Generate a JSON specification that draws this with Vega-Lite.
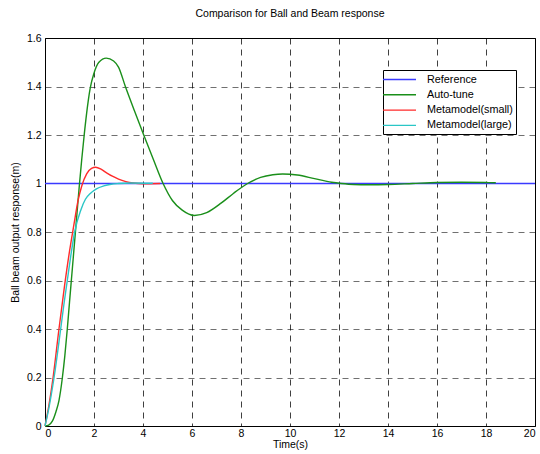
{
  "$schema": "https://vega.github.io/schema/vega-lite/v6.json",
  "width": 490,
  "height": 388,
  "autosize": "none",
  "padding": {"left": 45, "top": 38, "right": 5, "bottom": 28},
  "background": "white",
  "title": {"text": "Comparison for Ball and Beam response", "fontSize": 10.5, "font": "Liberation Sans", "fontWeight": "normal", "offset": 14, "anchor": "middle", "color": "#000"},
  "data": {"values": [
    {"series": "Reference", "time": 0, "response": 1},
    {"series": "Reference", "time": 20, "response": 1},

    {"series": "Auto-tune", "time": 0, "response": 0},
    {"series": "Auto-tune", "time": 0.15, "response": 0.004},
    {"series": "Auto-tune", "time": 0.3, "response": 0.02},
    {"series": "Auto-tune", "time": 0.45, "response": 0.06},
    {"series": "Auto-tune", "time": 0.57, "response": 0.105},
    {"series": "Auto-tune", "time": 0.71, "response": 0.2},
    {"series": "Auto-tune", "time": 0.81, "response": 0.29},
    {"series": "Auto-tune", "time": 0.91, "response": 0.4},
    {"series": "Auto-tune", "time": 1.0, "response": 0.51},
    {"series": "Auto-tune", "time": 1.1, "response": 0.63},
    {"series": "Auto-tune", "time": 1.2, "response": 0.75},
    {"series": "Auto-tune", "time": 1.3, "response": 0.87},
    {"series": "Auto-tune", "time": 1.4, "response": 0.99},
    {"series": "Auto-tune", "time": 1.5, "response": 1.1},
    {"series": "Auto-tune", "time": 1.6, "response": 1.2},
    {"series": "Auto-tune", "time": 1.7, "response": 1.29},
    {"series": "Auto-tune", "time": 1.84, "response": 1.39},
    {"series": "Auto-tune", "time": 2.0, "response": 1.455},
    {"series": "Auto-tune", "time": 2.2, "response": 1.5},
    {"series": "Auto-tune", "time": 2.5, "response": 1.517},
    {"series": "Auto-tune", "time": 2.8, "response": 1.505},
    {"series": "Auto-tune", "time": 3.0, "response": 1.48},
    {"series": "Auto-tune", "time": 3.28, "response": 1.4},
    {"series": "Auto-tune", "time": 3.65, "response": 1.3},
    {"series": "Auto-tune", "time": 4.03, "response": 1.2},
    {"series": "Auto-tune", "time": 4.42, "response": 1.1},
    {"series": "Auto-tune", "time": 4.82, "response": 1.0},
    {"series": "Auto-tune", "time": 5.2, "response": 0.93},
    {"series": "Auto-tune", "time": 5.6, "response": 0.89},
    {"series": "Auto-tune", "time": 6.1, "response": 0.868},
    {"series": "Auto-tune", "time": 6.6, "response": 0.88},
    {"series": "Auto-tune", "time": 7.2, "response": 0.92},
    {"series": "Auto-tune", "time": 7.7, "response": 0.96},
    {"series": "Auto-tune", "time": 8.27, "response": 1.0},
    {"series": "Auto-tune", "time": 8.8, "response": 1.025},
    {"series": "Auto-tune", "time": 9.3, "response": 1.036},
    {"series": "Auto-tune", "time": 9.7, "response": 1.039},
    {"series": "Auto-tune", "time": 10.3, "response": 1.035},
    {"series": "Auto-tune", "time": 11.0, "response": 1.02},
    {"series": "Auto-tune", "time": 11.7, "response": 1.005},
    {"series": "Auto-tune", "time": 12.1, "response": 1.0},
    {"series": "Auto-tune", "time": 12.6, "response": 0.996},
    {"series": "Auto-tune", "time": 13.2, "response": 0.995},
    {"series": "Auto-tune", "time": 14.0, "response": 0.996},
    {"series": "Auto-tune", "time": 15.0, "response": 1.0},
    {"series": "Auto-tune", "time": 16.0, "response": 1.004},
    {"series": "Auto-tune", "time": 17.0, "response": 1.005},
    {"series": "Auto-tune", "time": 18.0, "response": 1.004},
    {"series": "Auto-tune", "time": 18.4, "response": 1.003},

    {"series": "Metamodel(small)", "time": 0, "response": 0},
    {"series": "Metamodel(small)", "time": 0.15, "response": 0.08},
    {"series": "Metamodel(small)", "time": 0.33, "response": 0.2},
    {"series": "Metamodel(small)", "time": 0.57, "response": 0.4},
    {"series": "Metamodel(small)", "time": 0.8, "response": 0.58},
    {"series": "Metamodel(small)", "time": 1.0, "response": 0.72},
    {"series": "Metamodel(small)", "time": 1.18, "response": 0.83},
    {"series": "Metamodel(small)", "time": 1.35, "response": 0.93},
    {"series": "Metamodel(small)", "time": 1.5, "response": 0.99},
    {"series": "Metamodel(small)", "time": 1.7, "response": 1.04},
    {"series": "Metamodel(small)", "time": 1.9, "response": 1.062},
    {"series": "Metamodel(small)", "time": 2.07, "response": 1.067},
    {"series": "Metamodel(small)", "time": 2.3, "response": 1.058},
    {"series": "Metamodel(small)", "time": 2.5, "response": 1.045},
    {"series": "Metamodel(small)", "time": 2.75, "response": 1.03},
    {"series": "Metamodel(small)", "time": 3.0, "response": 1.018},
    {"series": "Metamodel(small)", "time": 3.3, "response": 1.008},
    {"series": "Metamodel(small)", "time": 3.6, "response": 1.002},
    {"series": "Metamodel(small)", "time": 4.0, "response": 0.999},
    {"series": "Metamodel(small)", "time": 4.7, "response": 1.0},

    {"series": "Metamodel(large)", "time": 0, "response": 0},
    {"series": "Metamodel(large)", "time": 0.15, "response": 0.07},
    {"series": "Metamodel(large)", "time": 0.37, "response": 0.2},
    {"series": "Metamodel(large)", "time": 0.64, "response": 0.4},
    {"series": "Metamodel(large)", "time": 0.77, "response": 0.5},
    {"series": "Metamodel(large)", "time": 0.91, "response": 0.6},
    {"series": "Metamodel(large)", "time": 1.05, "response": 0.7},
    {"series": "Metamodel(large)", "time": 1.21, "response": 0.8},
    {"series": "Metamodel(large)", "time": 1.46, "response": 0.89},
    {"series": "Metamodel(large)", "time": 1.65, "response": 0.935},
    {"series": "Metamodel(large)", "time": 1.86, "response": 0.96},
    {"series": "Metamodel(large)", "time": 2.1, "response": 0.978},
    {"series": "Metamodel(large)", "time": 2.4, "response": 0.99},
    {"series": "Metamodel(large)", "time": 2.7, "response": 0.997},
    {"series": "Metamodel(large)", "time": 3.0, "response": 1.0},
    {"series": "Metamodel(large)", "time": 3.5, "response": 1.002},
    {"series": "Metamodel(large)", "time": 4.4, "response": 1.001}
  ]},
  "mark": {"type": "line", "strokeWidth": 1.4, "interpolate": "monotone"},
  "encoding": {
    "x": {
      "field": "time", "type": "quantitative",
      "scale": {"domain": [0, 20], "nice": false},
      "axis": {"values": [0, 2, 4, 6, 8, 10, 12, 14, 16, 18, 20], "title": "Time(s)", "titlePadding": 1, "labelPadding": 2}
    },
    "y": {
      "field": "response", "type": "quantitative",
      "scale": {"domain": [0, 1.6], "nice": false},
      "axis": {
        "values": [0, 0.2, 0.4, 0.6, 0.8, 1, 1.2, 1.4, 1.6], "format": "~g", "title": "Ball beam output response(m)", "titlePadding": 6,
        "gridOpacity": {"condition": {"test": "datum.value === 1", "value": 0}, "value": 0.75}
      }
    },
    "color": {
      "field": "series", "type": "nominal",
      "scale": {"domain": ["Reference", "Auto-tune", "Metamodel(small)", "Metamodel(large)"], "range": ["#3a3aff", "#1a8f1a", "#ff2a2a", "#2ac6c6"]},
      "legend": {
        "orient": "none", "legendX": 338, "legendY": 32, "direction": "vertical", "title": null,
        "strokeColor": "#000", "fillColor": "#fff", "padding": 3,
        "symbolType": "M-3,0H3", "symbolSize": 121, "symbolOffset": 7, "symbolStrokeWidth": 1.4,
        "labelOffset": 21, "labelFontSize": 10.8, "labelFont": "Liberation Sans", "labelColor": "#000", "rowPadding": 3.3
      }
    }
  },
  "config": {
    "view": {"stroke": "#000", "strokeWidth": 1},
    "axis": {
      "domain": false, "ticks": false, "tickSize": 0, "labelPadding": 4,
      "labelFont": "Liberation Sans", "labelFontSize": 10.5, "labelColor": "#000",
      "titleFont": "Liberation Sans", "titleFontSize": 10.5, "titleFontWeight": "normal", "titleColor": "#000",
      "grid": true, "gridColor": "#000", "gridOpacity": 0.75, "gridDash": [6, 5], "gridWidth": 1
    }
  }
}
